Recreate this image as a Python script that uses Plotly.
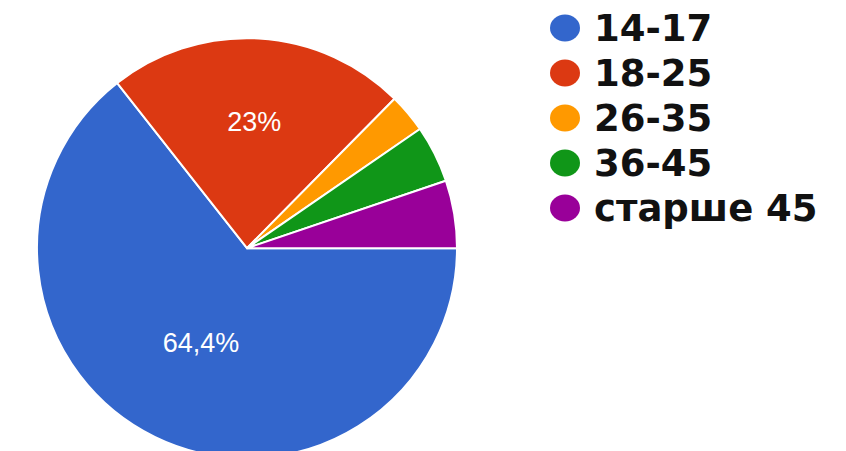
import plotly.graph_objects as go

categories = ["14-17", "18-25", "26-35", "36-45", "старше 45"]
values = [64.4, 23.0, 3.0, 4.4, 5.2]
slice_labels = ["64,4%", "23%", "", "", ""]
colors = ["#3366cc", "#dc3912", "#ff9900", "#109618", "#990099"]

W, H = 846, 451

fig = go.Figure()
fig.add_trace(go.Pie(
    labels=categories,
    values=values,
    text=slice_labels,
    textinfo="text",
    textposition="inside",
    insidetextorientation="horizontal",
    insidetextfont=dict(color="white", size=27, family="Liberation Sans, Arial, sans-serif"),
    marker=dict(colors=colors, line=dict(color="white", width=2)),
    sort=False,
    direction="clockwise",
    rotation=90,
    showlegend=False,
    hoverinfo="label+percent",
    domain=dict(x=[29 / W, 449 / W], y=[0.0, 0.935]),
))

annotations = []
shapes = []
for i, (cat, col) in enumerate(zip(categories, colors)):
    yc_px = 20 + 45 * i
    shapes.append(dict(
        type="circle", xref="paper", yref="paper",
        x0=542 / W, x1=572 / W,
        y0=1 - (yc_px + 13.5) / H, y1=1 - (yc_px - 13.5) / H,
        fillcolor=col, line=dict(width=0),
    ))
    annotations.append(dict(
        x=584 / W, y=1 - yc_px / H, xref="paper", yref="paper",
        text="<b>" + cat + "</b>", showarrow=False, xanchor="left", yanchor="middle",
        height=44,
        font=dict(size=37, color="#111111", family="DejaVu Sans, Arial, sans-serif"),
    ))

fig.update_layout(
    width=W, height=H,
    margin=dict(l=0, r=0, t=0, b=0),
    paper_bgcolor="white",
    plot_bgcolor="white",
    annotations=annotations,
    shapes=shapes,
)

fig.write_html("out.html")
